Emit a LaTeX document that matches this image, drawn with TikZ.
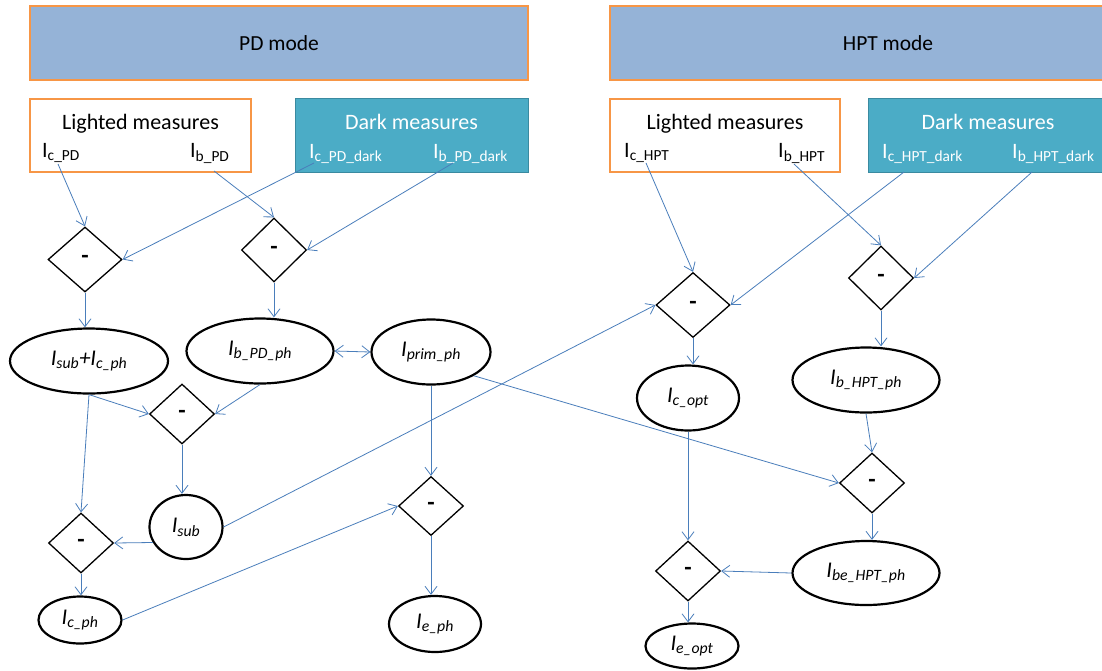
\documentclass[tikz,border=0pt]{standalone}
\usepackage{fontspec}
\setmainfont{Carlito}
\usetikzlibrary{shapes.geometric,arrows.meta}
\definecolor{modefill}{HTML}{95B3D7}
\definecolor{orangeb}{HTML}{F79646}
\definecolor{tealf}{HTML}{4BACC6}
\definecolor{tealb}{HTML}{3A8AA0}
\definecolor{arrowblue}{HTML}{4A7EBB}
\newcommand{\mybig}{\fontsize{22}{26}\selectfont}
\newcommand{\mymode}{\fontsize{21.5}{25}\selectfont}
\begin{document}
\begin{tikzpicture}[x=1pt,y=-1pt,
  modebar/.style={rectangle, draw=orangeb, line width=1.6pt, fill=modefill, inner sep=0pt, font=\mymode},
  litbox/.style={rectangle, draw=orangeb, line width=1.6pt, fill=white, inner sep=0pt},
  darkbox/.style={rectangle, draw=tealb, line width=1pt, fill=tealf, inner sep=0pt},
  title/.style={anchor=base, inner sep=0pt, font=\mybig},
  lab/.style={anchor=base west, inner sep=0pt, font=\mybig},
  dia/.style={diamond, draw=black, line width=1.3pt, inner sep=0pt, minimum width=65pt, minimum height=60pt, font=\fontsize{24}{28}\selectfont\bfseries},
  ell/.style={ellipse, draw=black, line width=2.2pt, inner sep=0pt, font=\fontsize{22.5}{26}\selectfont\itshape},
  arr/.style={draw=arrowblue, line width=0.8pt, -{Straight Barb[length=8pt,width=12pt]}},
  darr/.style={draw=arrowblue, line width=0.8pt, {Straight Barb[length=8pt,width=12pt]}-{Straight Barb[length=8pt,width=12pt]}}
]
\clip (0,0) rectangle (1102,670);
\fill[white] (0,0) rectangle (1102,670);

% mode bars
\node[modebar, minimum width=498pt, minimum height=74pt] (pd) at (279,43) {PD mode};
\node[modebar, minimum width=556pt, minimum height=74pt] (hpt) at (888,43) {\makebox[0pt]{HPT mode}};

% measure boxes
\node[litbox, minimum width=221pt, minimum height=73pt] (lpd) at (140.5,135.5) {};
\node[darkbox, minimum width=233pt, minimum height=74pt] (dpd) at (411.5,135) {};
\node[litbox, minimum width=230pt, minimum height=73pt] (lhpt) at (725,135.5) {};
\node[darkbox, minimum width=240pt, minimum height=74pt] (dhpt) at (988,135) {};

\node[title] (lpdt) at (140.5,129) {Lighted measures};
\node[title, text=white] (dpdt) at (411.5,129) {Dark measures};
\node[title] (lhptt) at (725,129) {Lighted measures};
\node[title, text=white] (dhptt) at (988,129) {Dark measures};

\node[lab] (icpd) at (42,157.5) {I\textsubscript{c\_PD}};
\node[lab] (ibpd) at (190,157.5) {I\textsubscript{b\_PD}};
\node[lab, text=white] (icpdd) at (309,158) {I\textsubscript{c\_PD\_dark}};
\node[lab, text=white] (ibpdd) at (433,158) {I\textsubscript{b\_PD\_dark}};
\node[lab] (ichpt) at (624,157.5) {I\textsubscript{c\_HPT}};
\node[lab] (ibhpt) at (778,157.5) {I\textsubscript{b\_HPT}};
\node[lab, text=white] (ichptd) at (882,158) {I\textsubscript{c\_HPT\_dark}};
\node[lab, text=white] (ibhptd) at (1012,158) {I\textsubscript{b\_HPT\_dark}};

% start points
\coordinate (c1) at (58,164);
\coordinate (c2) at (214,171);
\coordinate (c3) at (314,163);
\coordinate (c4) at (453,163);
\coordinate (c5) at (646,163);
\coordinate (c6) at (794,164);
\coordinate (c7) at (904,172);
\coordinate (c8) at (1032,172);

% diamonds
\node[dia, minimum width=74pt, minimum height=65pt] (d1) at (85,259.5) {-};
\node[dia, minimum height=64pt] (d2) at (274,250) {-};
\node[dia] (d3) at (182,414) {-};
\node[dia] (d4) at (81,543) {-};
\node[dia, minimum height=59pt] (d5) at (431,506) {-};
\node[dia, minimum width=74pt, minimum height=65pt] (d6) at (693,305) {-};
\node[dia, minimum height=64pt] (d7) at (881,278) {-};
\node[dia] (d8) at (872,483) {-};
\node[dia] (d9) at (688,571) {-};

% ellipses
\node[ell, minimum width=158pt, minimum height=65pt] (e1) at (89,361) {I\textsubscript{sub}+I\textsubscript{c\_ph}};
\node[ell, minimum width=147pt, minimum height=65pt] (e2) at (260,351) {I\textsubscript{b\_PD\_ph}};
\node[ell, minimum width=119pt, minimum height=65pt] (e3) at (431,352) {I\textsubscript{prim\_ph}};
\node[ell, minimum width=73pt, minimum height=64pt] (e4) at (186,527) {I\textsubscript{sub}};
\node[ell, minimum width=83pt, minimum height=47pt] (e5) at (80,620) {I\textsubscript{c\_ph}};
\node[ell, minimum width=92pt, minimum height=56pt] (e6) at (435,624) {I\textsubscript{e\_ph}};
\node[ell, minimum width=102pt, minimum height=65pt] (e7) at (688,398) {I\textsubscript{c\_opt}};
\node[ell, minimum width=147pt, minimum height=65pt] (e8) at (866,380) {I\textsubscript{b\_HPT\_ph}};
\node[ell, minimum width=147pt, minimum height=64pt] (e9) at (866,573) {I\textsubscript{be\_HPT\_ph}};
\node[ell, minimum width=93pt, minimum height=45pt] (e10) at (692,646) {I\textsubscript{e\_opt}};

% connectors: PD
\draw[arr] (c1) -- (d1.north);
\draw[arr] (c3) -- (d1.east);
\draw[arr] (c2) -- (d2.north);
\draw[arr] (c4) -- (d2.east);
\draw[arr] (d1.south) -- (d1.south |- e1.north);
\draw[arr] (d2.south) -- (d2.south |- e2.north);
\draw[darr] (e2.east) -- (e3.west);
\draw[arr] (e1.south) -- (d3.west);
\draw[arr] (e2.south) -- (d3.east);
\draw[arr] (e1.south) -- (d4.north);
\draw[arr] (d3.south) -- (d3.south |- e4.north);
\draw[arr] (e4.205) -- (d4.east);
\draw[arr] (d4.south) -- (d4.south |- e5.north);
\draw[arr] (e5.east) -- (d5.west);
\draw[arr] (e3.south) -- (d5.north);
\draw[arr] (d5.south) -- (d5.south |- e6.north);
\draw[arr] (e4.east) -- (d6.west);
\draw[arr] (e3.south east) -- (d8.west);

% connectors: HPT
\draw[arr] (c5) -- (d6.north);
\draw[arr] (c7) -- (d6.east);
\draw[arr] (c6) -- (d7.north);
\draw[arr] (c8) -- (d7.east);
\draw[arr] (d6.south) -- (d6.south |- e7.north);
\draw[arr] (d7.south) -- (d7.south |- e8.north);
\draw[arr] (e7.south) -- (d9.north);
\draw[arr] (e8.south) -- (d8.north);
\draw[arr] (d8.south) -- (d8.south |- e9.north);
\draw[arr] (e9.west) -- (d9.east);
\draw[arr] (d9.south) -- (d9.south |- e10.north);
\end{tikzpicture}
\end{document}
